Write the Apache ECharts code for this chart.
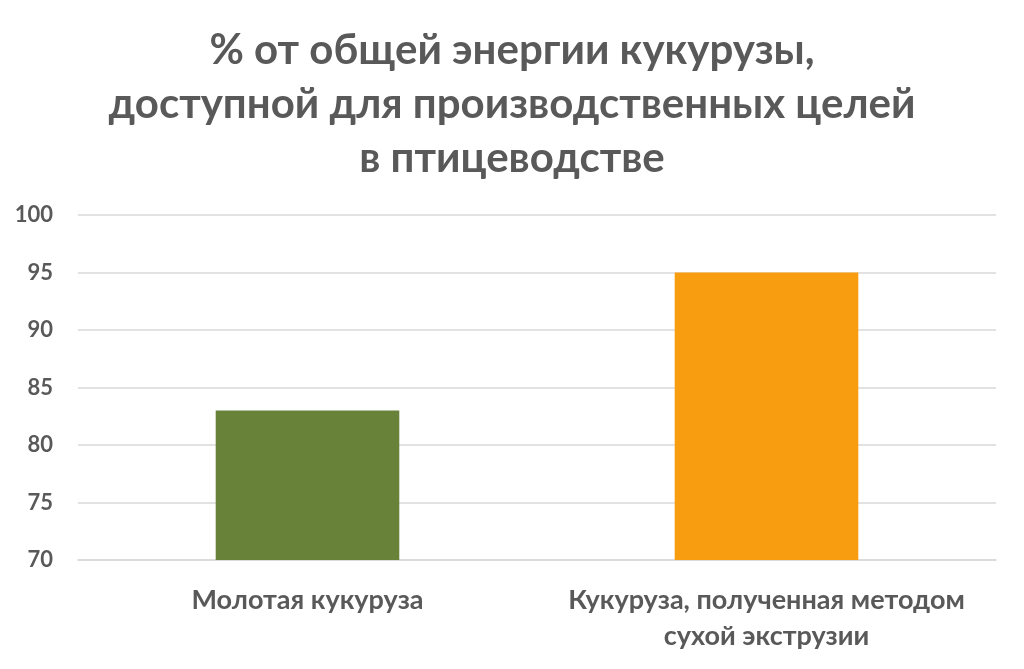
<!DOCTYPE html>
<html><head><meta charset="utf-8">
<script src="https://cdn.jsdelivr.net/npm/echarts@6/dist/echarts.min.js"></script>
<style>html,body{margin:0;padding:0;background:#fff}#c{width:1024px;height:669px}</style>
</head><body><div id="c"></div>
<script>
const titleText = "% от общей энергии кукурузы,\nдоступной для производственных целей\nв птицеводстве";
const categories = ["Молотая кукуруза", "Кукуруза, полученная методом\nсухой экструзии"];
const values = [83, 95];
const barColors = ["#68823A", "#F99D10"];
const yMin = 70, yMax = 100, yStep = 5;

const chart = echarts.init(document.getElementById('c'));
chart.setOption({
  animation: false,
  title: {
    text: titleText, left: 'center', top: 18,
    textStyle: { fontFamily: 'Lato', fontWeight: 'bold', fontSize: 42, lineHeight: 54, color: '#595959' }
  },
  grid: { left: 78, right: 28, top: 215, bottom: 109, containLabel: false },
  xAxis: {
    type: 'category', data: categories,
    axisLine: { show: true, lineStyle: { color: '#d9d9d9', width: 1.5 } },
    axisTick: { show: false },
    axisLabel: { fontFamily: 'Lato', fontWeight: 'bold', fontSize: 27, lineHeight: 36, color: '#595959', margin: 22, interval: 0 }
  },
  yAxis: {
    type: 'value', min: yMin, max: yMax, interval: yStep,
    axisLine: { show: false }, axisTick: { show: false },
    splitLine: { lineStyle: { color: '#d9d9d9', width: 1.5 } },
    axisLabel: { fontFamily: 'Lato', fontWeight: 'bold', fontSize: 22, color: '#595959', margin: 25 }
  },
  series: [{
    type: 'bar', barWidth: '40%',
    data: values.map((v, i) => ({ value: v, itemStyle: { color: barColors[i] } }))
  }]
});
</script></body></html>
